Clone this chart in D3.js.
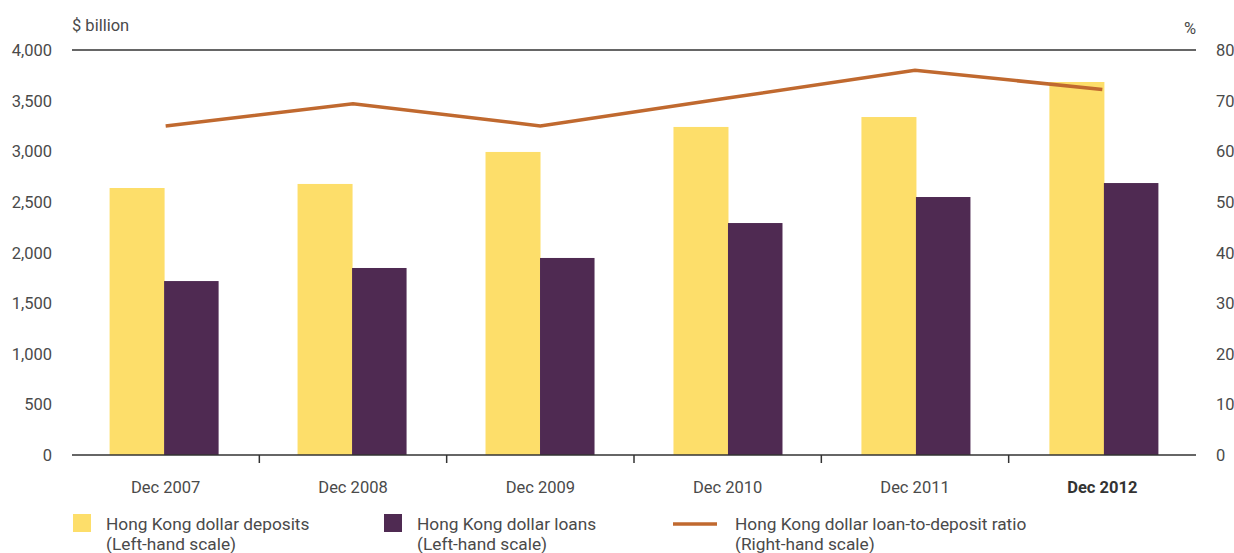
<!DOCTYPE html>
<html>
<head>
<meta charset="utf-8">
<script src="https://cdn.jsdelivr.net/npm/d3@7"></script>
<style>
  body { margin: 0; background: #fff; }
  text { font-family: Roboto, "DejaVu Sans", sans-serif; fill: #4a4a4a; }
</style>
</head>
<body>
<svg id="chart_svg" width="1234" height="553"></svg>
<script>
// data
const categories = ["Dec 2007", "Dec 2008", "Dec 2009", "Dec 2010", "Dec 2011", "Dec 2012"];
const deposits = [2637, 2677, 2993, 3240, 3338, 3684];
const loans = [1718, 1847, 1946, 2291, 2548, 2686];
const ratio = [65.0, 69.4, 65.0, 70.5, 76.0, 72.2];
const leftTicks = [0, 500, 1000, 1500, 2000, 2500, 3000, 3500, 4000];
const rightTicks = [0, 10, 20, 30, 40, 50, 60, 70, 80];

const svg = d3.select("#chart_svg");

const margin = { top: 50, bottom: 98, left: 72, right: 38 };
const width = 1234, height = 553;

const xScale = d3.scaleBand()
  .domain(categories)
  .range([margin.left, width - margin.right])
  .paddingInner(0.42)
  .paddingOuter(0.2);

const yLeft = d3.scaleLinear().domain([0, 4000]).range([height - margin.bottom, margin.top]);
const yRight = d3.scaleLinear().domain([0, 80]).range([height - margin.bottom, margin.top]);

const bw = xScale.bandwidth() / 2;

// bars
const g = svg.append("g");
g.selectAll(".dep").data(categories).enter().append("rect")
  .attr("class", "dep")
  .attr("x", d => xScale(d))
  .attr("y", (d, i) => yLeft(deposits[i]))
  .attr("width", bw + 0.5)
  .attr("height", (d, i) => yLeft(0) - yLeft(deposits[i]))
  .attr("fill", "#fdde6a");

g.selectAll(".loan").data(categories).enter().append("rect")
  .attr("class", "loan")
  .attr("x", d => xScale(d) + bw)
  .attr("y", (d, i) => yLeft(loans[i]))
  .attr("width", bw)
  .attr("height", (d, i) => yLeft(0) - yLeft(loans[i]))
  .attr("fill", "#4f2a52");

// ratio line, points at category centres
const catW = (width - margin.left - margin.right) / categories.length;
const cx = d => margin.left + (categories.indexOf(d) + 0.5) * catW;
const line = d3.line()
  .x((d, i) => cx(categories[i]))
  .y(d => yRight(d));
g.append("path")
  .datum(ratio)
  .attr("fill", "none")
  .attr("stroke", "#c0692f")
  .attr("stroke-width", 3.5)
  .attr("d", line);

// top and bottom frame lines
svg.append("line")
  .attr("x1", margin.left).attr("x2", width - margin.right)
  .attr("y1", yLeft(4000)).attr("y2", yLeft(4000))
  .attr("stroke", "#333").attr("stroke-width", 1.5);
svg.append("line")
  .attr("x1", margin.left).attr("x2", width - margin.right)
  .attr("y1", yLeft(0)).attr("y2", yLeft(0))
  .attr("stroke", "#333").attr("stroke-width", 1.5);

// ticks between categories
svg.selectAll(".xtick").data(d3.range(1, categories.length)).enter().append("line")
  .attr("x1", d => margin.left + d * catW).attr("x2", d => margin.left + d * catW)
  .attr("y1", yLeft(0)).attr("y2", yLeft(0) + 8)
  .attr("stroke", "#333").attr("stroke-width", 1.5);

// x labels
svg.selectAll(".xlab").data(categories).enter().append("text")
  .attr("x", d => cx(d))
  .attr("y", 493)
  .attr("text-anchor", "middle")
  .attr("font-size", 16.5)
  .attr("font-weight", (d, i) => i === categories.length - 1 ? "bold" : "normal")
  .style("fill", (d, i) => i === categories.length - 1 ? "#333" : "#4a4a4a")
  .text(d => d);

// left axis labels
svg.selectAll(".ylab").data(leftTicks).enter().append("text")
  .attr("x", 52)
  .attr("y", d => yLeft(d) + 6)
  .attr("text-anchor", "end")
  .attr("font-size", 16.5)
  .text(d => d3.format(",")(d));

// right axis labels
svg.selectAll(".rlab").data(rightTicks).enter().append("text")
  .attr("x", 1216)
  .attr("y", d => yRight(d) + 6)
  .attr("text-anchor", "start")
  .attr("font-size", 16.5)
  .text(d => d);

svg.append("text").attr("x", 72).attr("y", 31).attr("font-size", 16.5).text("$ billion");
svg.append("text").attr("x", width - margin.right).attr("y", 34).attr("text-anchor", "end").attr("font-size", 16.5).text("%");

// legend
const legendItemsData = [
  { type: "rect", color: "#fdde6a", x: 73, label: ["Hong Kong dollar deposits", "(Left-hand scale)"] },
  { type: "rect", color: "#4f2a52", x: 384, label: ["Hong Kong dollar loans", "(Left-hand scale)"] },
  { type: "line", color: "#c0692f", x: 673, label: ["Hong Kong dollar loan-to-deposit ratio", "(Right-hand scale)"] }
];
const legend = svg.append("g").attr("class", "legend");
legendItemsData.forEach(d => {
  if (d.type === "rect") {
    legend.append("rect").attr("x", d.x).attr("y", 514).attr("width", 18).attr("height", 18).attr("fill", d.color);
  } else {
    legend.append("line").attr("x1", d.x).attr("x2", d.x + 44).attr("y1", 524).attr("y2", 524)
      .attr("stroke", d.color).attr("stroke-width", 3.5);
  }
  const tx = d.type === "rect" ? d.x + 33 : d.x + 62;
  const t = legend.append("text").attr("x", tx).attr("y", 530).attr("font-size", 17.3);
  t.append("tspan").attr("x", tx).text(d.label[0]);
  t.append("tspan").attr("x", tx).attr("dy", 20).text(d.label[1]);
});
</script>
</body>
</html>
